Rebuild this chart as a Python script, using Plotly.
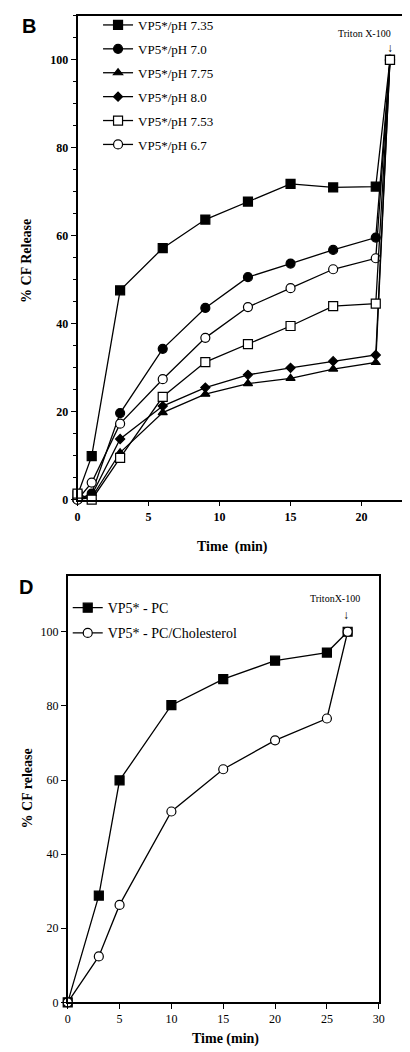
import plotly.graph_objects as go

# ---------------- Panel B data ----------------
time_b = [0, 1, 3, 6, 9, 12, 15, 18, 21, 22]
ph_735 = [1.0, 9.9, 47.6, 57.2, 63.7, 67.8, 71.8, 71.0, 71.2, 100]
ph_70 = [0, 1.4, 19.7, 34.3, 43.6, 50.6, 53.7, 56.8, 59.6, 100]
ph_775 = [0, 0.5, 10.7, 19.8, 24.0, 26.4, 27.6, 29.7, 31.2, 100]
ph_80 = [0, 1.0, 13.8, 21.3, 25.5, 28.4, 30.0, 31.5, 32.9, 100]
ph_753 = [1.4, 0, 9.5, 23.4, 31.3, 35.4, 39.5, 44.0, 44.6, 100]
ph_67 = [0, 3.9, 17.3, 27.4, 36.8, 43.8, 48.1, 52.4, 54.9, 100]
labels_b = ["VP5*/pH 7.35", "VP5*/pH 7.0", "VP5*/pH 7.75",
            "VP5*/pH 8.0", "VP5*/pH 7.53", "VP5*/pH 6.7"]

# ---------------- Panel D data ----------------
time_d = [0, 3, 5, 10, 15, 20, 25, 27]
pc = [0, 28.8, 59.9, 80.2, 87.2, 92.2, 94.4, 100]
pc_chol = [0, 12.4, 26.3, 51.5, 62.9, 70.7, 76.6, 100]
labels_d = ["VP5* - PC", "VP5* - PC/Cholesterol"]

SERIF = "Liberation Serif, Times New Roman, serif"
SANS = "Liberation Sans, Arial, sans-serif"

fig = go.Figure()

series_b = [
    (ph_735, labels_b[0], "square", "black", 9, 1),
    (ph_70, labels_b[1], "circle", "black", 9, 2),
    (ph_775, labels_b[2], "triangle-up", "black", 8, 3),
    (ph_80, labels_b[3], "diamond", "black", 7, 4),
    (ph_67, labels_b[5], "circle", "white", 9, 6),
    (ph_753, labels_b[4], "square", "white", 9, 5),
]
for ys, name, sym, fill, size, rank in series_b:
    fig.add_trace(go.Scatter(
        x=time_b, y=ys, name=name, mode="lines+markers",
        line=dict(color="black", width=1.3),
        marker=dict(symbol=sym, color=fill, size=size,
                    line=dict(color="black", width=1.2)),
        cliponaxis=False, legendrank=rank, legend="legend",
        legendgroup=name, xaxis="x", yaxis="y"))

series_d = [
    (pc, labels_d[0], "square", "black"),
    (pc_chol, labels_d[1], "circle", "white"),
]
for ys, name, sym, fill in series_d:
    fig.add_trace(go.Scatter(
        x=time_d, y=ys, name=name, mode="lines+markers",
        line=dict(color="black", width=1.3),
        marker=dict(symbol=sym, color=fill, size=9,
                    line=dict(color="black", width=1.2)),
        cliponaxis=False, legend="legend2", legendgroup=name,
        xaxis="x2", yaxis="y2"))

W, H = 410, 1052


def px(x):
    return x / W


def py(y):
    return 1 - y / H


axis_common = dict(showline=True, linecolor="black", linewidth=1.5,
                   mirror=True, showgrid=False, zeroline=False,
                   ticks="outside", ticklen=5, tickwidth=1.2,
                   tickcolor="black")

fig.update_layout(
    width=W, height=H,
    margin=dict(l=0, r=0, t=0, b=0),
    paper_bgcolor="white", plot_bgcolor="white",
    xaxis=dict(domain=[px(68), px(402)], range=[0, 23],
               tickvals=[0, 5, 10, 15, 20], anchor="y",
               tickfont=dict(family=SERIF, size=12, color="black", weight="bold"),
               **axis_common),
    yaxis=dict(domain=[py(495), py(8)], range=[0, 110],
               tickvals=[0, 20, 40, 60, 80, 100], anchor="x",
               minor=dict(dtick=5, tick0=0, ticks="outside", ticklen=3,
                          tickcolor="black", showgrid=False),
               tickfont=dict(family=SERIF, size=12, color="black", weight="bold"),
               **axis_common),
    xaxis2=dict(domain=[px(58), px(376)], range=[0, 30],
                tickvals=[0, 5, 10, 15, 20, 25, 30], anchor="y2",
                tickfont=dict(family=SERIF, size=12, color="black"),
                **axis_common),
    yaxis2=dict(domain=[py(1001), py(572)], range=[0, 115],
                tickvals=[0, 20, 40, 60, 80, 100], anchor="x2",
                tickfont=dict(family=SERIF, size=12, color="black"),
                **axis_common),
    legend=dict(x=px(89), y=py(2), xanchor="left", yanchor="top",
                bgcolor="rgba(0,0,0,0)", borderwidth=0,
                font=dict(family=SERIF, size=13, color="black"),
                tracegroupgap=4),
    legend2=dict(x=px(58), y=py(588), xanchor="left", yanchor="top",
                 bgcolor="rgba(0,0,0,0)", borderwidth=0,
                 font=dict(family=SERIF, size=14, color="black"),
                 tracegroupgap=4),
    showlegend=True,
)

C = dict(xanchor="center", yanchor="middle", showarrow=False)
ann = []
# panel letters
ann.append(dict(text="<b>B</b>", x=px(18), y=py(18), xref="paper", yref="paper",
                font=dict(family=SANS, size=20, color="black"), **C))
ann.append(dict(text="<b>D</b>", x=px(15), y=py(583), xref="paper", yref="paper",
                font=dict(family=SANS, size=20, color="black"), **C))
# axis titles
ann.append(dict(text="<b>% CF Release</b>", x=px(16), y=py(255), xref="paper",
                yref="paper", textangle=-90,
                font=dict(family=SERIF, size=14, color="black"), **C))
ann.append(dict(text="<b>Time  (min)</b>", x=px(226), y=py(543), xref="paper",
                yref="paper",
                font=dict(family=SERIF, size=14, color="black"), **C))
ann.append(dict(text="<b>% CF release</b>", x=px(17), y=py(786), xref="paper",
                yref="paper", textangle=-90,
                font=dict(family=SERIF, size=14, color="black"), **C))
ann.append(dict(text="<b>Time (min)</b>", x=px(219), y=py(1038), xref="paper",
                yref="paper",
                font=dict(family=SERIF, size=14, color="black"), **C))
# Triton annotations
ann.append(dict(text="Triton X-100", x=20.2, y=106, xref="x", yref="y",
                font=dict(family=SERIF, size=10, color="black"), **C))
ann.append(dict(text="↓", x=22, y=102.6, xref="x", yref="y",
                font=dict(family=SERIF, size=12, color="black"), **C))
ann.append(dict(text="TritonX-100", x=25.8, y=108.9, xref="x2", yref="y2",
                font=dict(family=SERIF, size=10, color="black"), **C))
ann.append(dict(text="↓", x=26.8, y=104.6, xref="x2", yref="y2",
                font=dict(family=SERIF, size=12, color="black"), **C))
fig.update_layout(annotations=ann)

fig.write_html("out.html")
